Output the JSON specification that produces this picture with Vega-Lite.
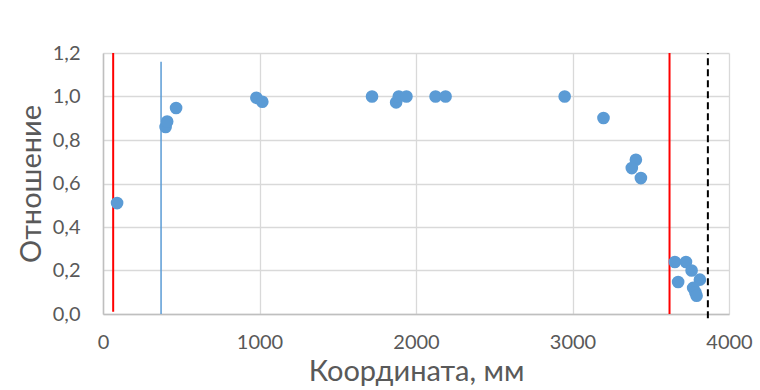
{
  "$schema": "https://vega.github.io/schema/vega-lite/v6.json",
  "width": 626,
  "height": 261,
  "autosize": {"type": "none"},
  "padding": {"left": 103, "top": 53, "right": 31, "bottom": 76},
  "background": "white",
  "datasets": {
    "points": [
      {"x": 90, "ratio": 0.51},
      {"x": 400, "ratio": 0.86},
      {"x": 410, "ratio": 0.885},
      {"x": 467, "ratio": 0.947},
      {"x": 980, "ratio": 0.994},
      {"x": 1018, "ratio": 0.976},
      {"x": 1719, "ratio": 1.0},
      {"x": 1873, "ratio": 0.973},
      {"x": 1890, "ratio": 1.0},
      {"x": 1939, "ratio": 1.0},
      {"x": 2125, "ratio": 1.0},
      {"x": 2189, "ratio": 1.0},
      {"x": 2950, "ratio": 1.0},
      {"x": 3198, "ratio": 0.901},
      {"x": 3405, "ratio": 0.709},
      {"x": 3379, "ratio": 0.671},
      {"x": 3437, "ratio": 0.625},
      {"x": 3654, "ratio": 0.239},
      {"x": 3725, "ratio": 0.239},
      {"x": 3761, "ratio": 0.2},
      {"x": 3814, "ratio": 0.158},
      {"x": 3675, "ratio": 0.147},
      {"x": 3771, "ratio": 0.12},
      {"x": 3785, "ratio": 0.1},
      {"x": 3793, "ratio": 0.084}
    ],
    "redLines": [
      {"x": 65, "y1": 0.01, "y2": 1.2},
      {"x": 3620, "y1": 0, "y2": 1.2}
    ],
    "blueLine": [
      {"x": 371, "y1": 0, "y2": 1.16}
    ],
    "dashLine": [
      {"x": 3865, "y1": -0.02, "y2": 1.2}
    ]
  },
  "layer": [
    {
      "data": {"name": "redLines"},
      "mark": {"type": "rule", "color": "#FF0000", "strokeWidth": 2},
      "encoding": {
        "x": {"field": "x", "type": "quantitative"},
        "y": {"field": "y1", "type": "quantitative"},
        "y2": {"field": "y2"}
      }
    },
    {
      "data": {"name": "blueLine"},
      "mark": {"type": "rule", "color": "#5B9BD5", "strokeWidth": 1.5},
      "encoding": {
        "x": {"field": "x", "type": "quantitative"},
        "y": {"field": "y1", "type": "quantitative"},
        "y2": {"field": "y2"}
      }
    },
    {
      "data": {"name": "dashLine"},
      "mark": {"type": "rule", "color": "#000000", "strokeWidth": 2, "strokeDash": [7, 4]},
      "encoding": {
        "x": {"field": "x", "type": "quantitative"},
        "y": {"field": "y1", "type": "quantitative"},
        "y2": {"field": "y2"}
      }
    },
    {
      "data": {"name": "points"},
      "mark": {"type": "circle", "size": 160, "color": "#5B9BD5", "opacity": 1},
      "encoding": {
        "x": {
          "field": "x",
          "type": "quantitative",
          "scale": {"domain": [0, 4000], "nice": false, "zero": false},
          "axis": {
            "title": "Координата, мм",
            "values": [0, 1000, 2000, 3000, 4000],
            "format": "d",
            "grid": true,
            "ticks": false,
            "labelFlush": false,
            "labelOverlap": false,
            "labelPadding": 18,
            "titlePadding": 5
          }
        },
        "y": {
          "field": "ratio",
          "type": "quantitative",
          "scale": {"domain": [0, 1.2], "nice": false},
          "axis": {
            "title": "Отношение",
            "values": [0, 0.2, 0.4, 0.6, 0.8, 1.0, 1.2],
            "labelExpr": "replace(format(datum.value, '.1f'), '.', ',')",
            "grid": true,
            "ticks": false,
            "labelFlush": false,
            "labelOverlap": false,
            "labelPadding": 23,
            "titlePadding": 6
          }
        }
      }
    }
  ],
  "config": {
    "font": "Lato",
    "view": {"stroke": null},
    "axis": {
      "domainColor": "#BFBFBF",
      "domainWidth": 1.5,
      "gridColor": "#D9D9D9",
      "gridWidth": 1.3,
      "labelColor": "#595959",
      "labelFontSize": 20,
      "labelFont": "Lato",
      "titleFont": "Lato",
      "titleColor": "#595959",
      "titleFontSize": 29,
      "titleFontWeight": "normal"
    }
  }
}
